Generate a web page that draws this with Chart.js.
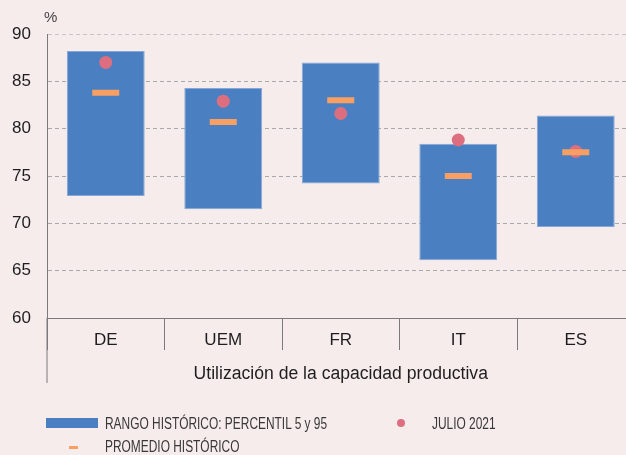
<!DOCTYPE html>
<html>
<head>
<meta charset="utf-8">
<script src="https://cdn.jsdelivr.net/npm/chart.js@4/dist/chart.umd.min.js"></script>
<style>
  html, body { margin: 0; padding: 0; background: #f7ecec; overflow: hidden; }
  #wrap { position: relative; width: 626px; height: 455px; overflow: hidden; }
  #wrap canvas { position: absolute; left: 0; top: 0; }
  .txt { position: absolute; font-family: "Liberation Sans", Arial, sans-serif; color: #222; white-space: nowrap; }
  .leg { position: absolute; font-family: "Liberation Sans", sans-serif; font-size: 16px; color: #383838; white-space: nowrap; line-height: 16px; transform: scaleX(0.745); transform-origin: left center; }
</style>
</head>
<body>
<div id="wrap">
  <canvas id="c" width="654" height="455" style="width:654px;height:455px"></canvas>
  <div class="txt" style="left:44px;top:8px;font-size:15px;color:#444">%</div>

  <div style="position:absolute;left:46px;top:418px;width:52px;height:9.5px;background:#4a80c1"></div>
  <div class="leg" style="left:105px;top:416px">RANGO HISTÓRICO: PERCENTIL 5 y 95</div>
  <div style="position:absolute;left:397px;top:419px;width:8px;height:8px;border-radius:50%;background:#dc6e7f"></div>
  <div class="leg" style="left:432px;top:416px">JULIO 2021</div>
  <div style="position:absolute;left:69px;top:446px;width:9px;height:3px;background:#f89f63"></div>
  <div class="leg" style="left:105px;top:439px">PROMEDIO HISTÓRICO</div>
</div>
<script>
(function() {
    'use strict';

    // Data
    const countries = ['DE', 'UEM', 'FR', 'IT', 'ES'];
    const rangeLow = [72.9, 71.5, 74.2, 66.1, 69.6];
    const rangeHigh = [88.2, 84.3, 87.0, 78.4, 81.4];
    const histAverage = [83.8, 80.7, 83.0, 75.0, 77.5];
    const july2021 = [87.0, 82.9, 81.6, 78.8, 77.6];
    const yTicks = [60, 65, 70, 75, 80, 85, 90];

    const textColor = '#1e1e1e';
    const axisColor = '#7a7a7a';

    // vertical y-axis line extends down past the category labels
    const axisExtend = {
        id: 'axisExtend',
        afterDraw(chart) {
            const ctx = chart.ctx;
            const x = chart.scales.x.left;
            ctx.save();
            ctx.strokeStyle = axisColor;
            ctx.lineWidth = 1;
            ctx.beginPath();
            ctx.moveTo(x, chart.chartArea.bottom);
            ctx.lineTo(x, 383);
            ctx.stroke();
            ctx.restore();
        }
    };

    const ctx = document.getElementById('c').getContext('2d');
    new Chart(ctx, {
        type: 'bar',
        data: {
            labels: countries,
            datasets: [
                {
                    type: 'line',
                    label: 'PROMEDIO HISTÓRICO',
                    data: histAverage,
                    showLine: false,
                    pointStyle: 'line',
                    pointRadius: 13.5,
                    pointHoverRadius: 13.5,
                    pointBorderWidth: 6,
                    pointHoverBorderWidth: 6,
                    borderColor: '#f89f63',
                    backgroundColor: '#f89f63',
                    order: 0
                },
                {
                    type: 'line',
                    label: 'JULIO 2021',
                    data: july2021,
                    showLine: false,
                    pointStyle: 'circle',
                    pointRadius: 6.5,
                    pointHoverRadius: 6.5,
                    pointBorderWidth: 0,
                    borderColor: '#dc6e7f',
                    backgroundColor: '#dc6e7f',
                    order: 1
                },
                {
                    label: 'RANGO HISTÓRICO: PERCENTIL 5 y 95',
                    data: countries.map((c, i) => [rangeLow[i], rangeHigh[i]]),
                    backgroundColor: '#4a80c1',
                    borderColor: '#86a8d6',
                    borderWidth: 1,
                    borderSkipped: false,
                    barPercentage: 0.663,
                    categoryPercentage: 1,
                    order: 2
                }
            ]
        },
        options: {
            responsive: false,
            animation: false,
            devicePixelRatio: 1,
            layout: { padding: { top: 34, right: 5, bottom: 67, left: 0 } },
            plugins: {
                legend: { display: false },
                tooltip: { enabled: false }
            },
            scales: {
                x: {
                    offset: true,
                    border: { color: axisColor, width: 1 },
                    grid: {
                        offset: true,
                        drawOnChartArea: false,
                        drawTicks: true,
                        tickLength: 32,
                        tickColor: axisColor
                    },
                    ticks: {
                        color: textColor,
                        font: { family: 'Liberation Sans', size: 17 },
                        padding: -20
                    },
                    title: {
                        display: true,
                        text: 'Utilización de la capacidad productiva',
                        color: textColor,
                        font: { family: 'Liberation Sans', size: 17.6 },
                        padding: { top: 0, bottom: 3 }
                    },
                    afterFit(scale) { scale.height = 70; }
                },
                y: {
                    min: 60,
                    max: 90,
                    afterBuildTicks(scale) {
                        scale.ticks = yTicks.map(v => ({ value: v }));
                    },
                    border: { color: axisColor, width: 1, dash: [4, 3] },
                    grid: {
                        color: c => (c.tick && c.tick.value === 90) ? '#c4c4c4' : '#a8a8a8',
                        drawTicks: false,
                        lineWidth: 1
                    },
                    ticks: {
                        color: textColor,
                        font: { family: 'Liberation Sans', size: 17 },
                        padding: 16
                    },
                    afterFit(scale) { scale.width = 47; }
                }
            }
        },
        plugins: [axisExtend]
    });
})();
</script>
</body>
</html>
